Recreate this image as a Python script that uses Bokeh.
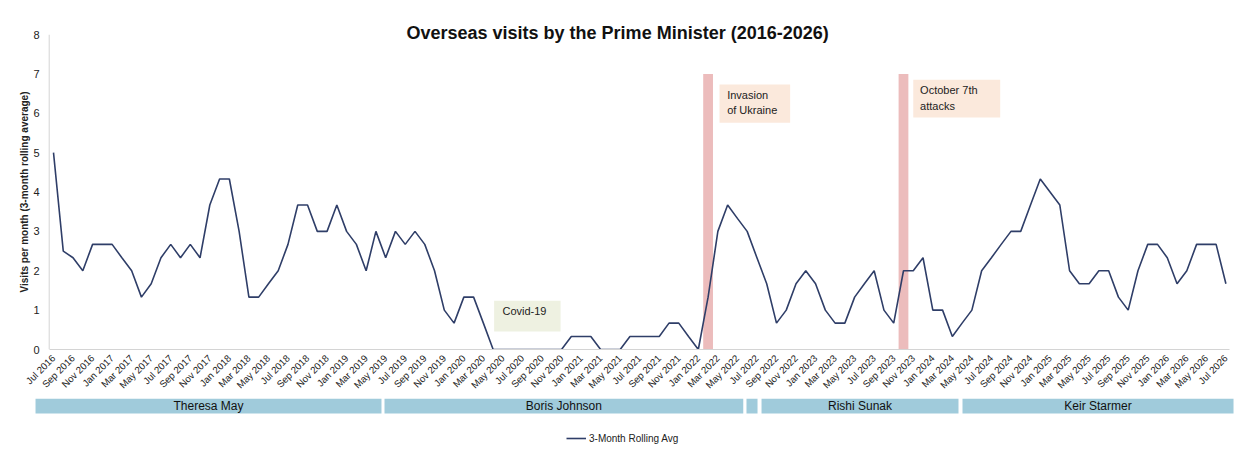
import math
import pandas as pd
from bokeh.plotting import figure
from bokeh.models import Range1d, FixedTicker, Title, Legend, LegendItem
from bokeh.layouts import column
from bokeh.embed import file_html
from bokeh.resources import INLINE
from bokeh.core.properties import value

# ---------------- data ----------------
months = list(pd.date_range("2016-07-01", periods=121, freq="MS").strftime("%b %Y"))

visits = [
    5, 2.5, 2.33, 2, 2.67, 2.67, 2.67, 2.33, 2, 1.33, 1.67, 2.33,          # Jul16-Jun17
    2.67, 2.33, 2.67, 2.33, 3.67, 4.33, 4.33, 3, 1.33, 1.33, 1.67, 2,      # Jul17-Jun18
    2.67, 3.67, 3.67, 3, 3, 3.67, 3, 2.67, 2, 3, 2.33, 3,                  # Jul18-Jun19
    2.67, 3, 2.67, 2, 1, 0.67, 1.33, 1.33, 0.67, 0, 0, 0,                  # Jul19-Jun20
    0, 0, 0, 0, 0, 0.33, 0.33, 0.33, 0, 0, 0, 0.33,                        # Jul20-Jun21
    0.33, 0.33, 0.33, 0.67, 0.67, 0.33, 0, 1.33, 3, 3.67, 3.33, 3,         # Jul21-Jun22
    2.33, 1.67, 0.67, 1, 1.67, 2, 1.67, 1, 0.67, 0.67, 1.33, 1.67,         # Jul22-Jun23
    2, 1, 0.67, 2, 2, 2.33, 1, 1, 0.33, 0.67, 1, 2,                        # Jul23-Jun24
    2.33, 2.67, 3, 3, 3.67, 4.33, 4, 3.67, 2, 1.67, 1.67, 2,               # Jul24-Jun25
    2, 1.33, 1, 2, 2.67, 2.67, 2.33, 1.67, 2, 2.67, 2.67, 2.67,            # Jul25-Jun26
    1.67,                                                                  # Jul26
]

event_months = ["Feb 2022", "Oct 2023"]
event_labels = ["Invasion\nof Ukraine", "October 7th\nattacks"]
event_height = 7

covid_label = "Covid-19"

pm_names = ["Theresa May", "Boris Johnson", "", "Rishi Sunak", "Keir Starmer"]
pm_start = [-1.84, 33.88, 70.93, 72.47, 93.04]   # months from Jul 2016, as drawn
pm_end = [33.57, 70.60, 72.06, 92.63, 120.78]

title_text = "Overseas visits by the Prime Minister (2016-2026)"
y_title = "Visits per month (3-month rolling average)"
legend_text = "3-Month Rolling Avg"
y_ticks = list(range(0, 9))

# ---------------- styles ----------------
FONT = "Liberation Sans"
LINE_COLOR = "#2f3e68"
EVENT_COLOR = "#ecbcbc"
NOTE_FILL = "#fbe9dc"
COVID_FILL = "#eef1e1"
PM_FILL = "#a0cbdb"
AXIS_COLOR = "#d4d4d4"
TEXT_COLOR = "#222222"

x = list(range(len(visits)))
idx = {m: i for i, m in enumerate(months)}

X_START = (34 - 53) / 9.77
X_END = (1234 - 53) / 9.77
AX_X = -0.44          # where the value axis line sits
AX_END = 120.37       # right end of the category axis line
Y_TOP = 8

# ---------------- main chart ----------------
p = figure(width=1244, height=398,
           x_range=Range1d(X_START, X_END), y_range=Range1d(0, Y_TOP),
           output_backend="svg", toolbar_location=None,
           min_border_left=34, min_border_right=10,
           min_border_top=34, min_border_bottom=49)
p.outline_line_color = None
p.grid.visible = False

# title (pulled down so that it sits level with the top tick)
p.title = Title(text=title_text, align="left", offset=372, vertical_align="bottom",
                standoff=-16, text_font=FONT, text_font_style="bold",
                text_font_size="18px", text_color="#111111")

# y axis (labels pulled in next to the value-axis line)
p.yaxis.ticker = FixedTicker(ticks=y_ticks)
p.yaxis.major_tick_line_color = None
p.yaxis.minor_tick_line_color = None
p.yaxis.axis_line_color = None
p.yaxis.major_label_standoff = -11
p.yaxis.major_label_text_font = FONT
p.yaxis.major_label_text_font_size = "11px"
p.yaxis.major_label_text_color = TEXT_COLOR
p.yaxis.axis_label = y_title
p.yaxis.axis_label_text_font = FONT
p.yaxis.axis_label_text_font_style = "bold"
p.yaxis.axis_label_text_font_size = "10px"
p.yaxis.axis_label_text_color = TEXT_COLOR
p.yaxis.axis_label_standoff = 0
p.segment(x0=[AX_X], y0=[0], x1=[AX_X], y1=[Y_TOP], line_color=AXIS_COLOR, line_width=1)

# x axis
xt = list(range(0, len(months), 2))
p.xaxis.bounds = (AX_X, AX_END)
p.xaxis.ticker = FixedTicker(ticks=xt)
p.xaxis.major_label_overrides = {i: months[i] for i in xt}
p.xaxis.major_label_orientation = math.pi / 4
p.xaxis.major_tick_line_color = None
p.xaxis.minor_tick_line_color = None
p.xaxis.axis_line_color = AXIS_COLOR
p.xaxis.major_label_standoff = 1
p.xaxis.major_label_text_font = FONT
p.xaxis.major_label_text_font_size = "9.7px"
p.xaxis.major_label_text_color = TEXT_COLOR

# event bars
ev_x = [idx[m] for m in event_months]
p.vbar(x=ev_x, top=[event_height] * len(ev_x), bottom=0, width=1.0,
       fill_color=EVENT_COLOR, line_color=None)

# note boxes (event labels)
p.quad(left=[ev_x[0] + 1.17, ev_x[1] + 1.0], right=[ev_x[0] + 8.4, ev_x[1] + 9.9],
       top=[6.73, 6.85], bottom=[5.76, 5.89], fill_color=NOTE_FILL, line_color=None)
p.text(x=[ev_x[0] + 1.95, ev_x[1] + 1.7], y=[6.62, 6.74], text=event_labels,
       text_font=value(FONT), text_font_size="11px", text_color=TEXT_COLOR,
       text_baseline="top", text_align="left", text_line_height=1.3)

# covid box
p.quad(left=[45.1], right=[51.9], top=[1.24], bottom=[0.46],
       fill_color=COVID_FILL, line_color=None)
p.text(x=[45.95], y=[1.12], text=[covid_label], text_font=value(FONT),
       text_font_size="11px", text_color=TEXT_COLOR, text_baseline="top")

# series line
p.line(x, visits, line_color=LINE_COLOR, line_width=1.6)

# ---------------- PM bands + legend ----------------
H2 = 71
p2 = figure(width=1244, height=H2,
            x_range=p.x_range, y_range=Range1d(0, H2),
            output_backend="svg", toolbar_location=None,
            x_axis_location=None, y_axis_location=None,
            min_border_left=34, min_border_right=10, min_border_top=0, min_border_bottom=0)
p2.outline_line_color = None
p2.grid.visible = False

p2.quad(left=pm_start, right=pm_end, bottom=H2 - 15, top=H2,
        fill_color=PM_FILL, line_color=None)
p2.text(x=[(a + b) / 2 for a, b in zip(pm_start, pm_end)], y=[H2 - 7.5] * len(pm_names),
        text=pm_names, text_font=value(FONT), text_font_size="12px",
        text_color="#111111", text_align="center", text_baseline="middle")

# legend-only renderer (kept outside the visible range)
r = p2.line([-20, -19], [0, 0], line_color=LINE_COLOR, line_width=1.6)
legend = Legend(items=[LegendItem(label=legend_text, renderers=[r])],
                location=(532, 23), padding=0, margin=0, spacing=0,
                glyph_width=20, glyph_height=16, label_standoff=3,
                label_text_font=FONT, label_text_font_size="10px",
                label_text_color=TEXT_COLOR, border_line_color=None,
                background_fill_alpha=0)
p2.add_layout(legend)

layout = column(p, p2, spacing=0)
open("out.html", "w").write(file_html(layout, INLINE))
